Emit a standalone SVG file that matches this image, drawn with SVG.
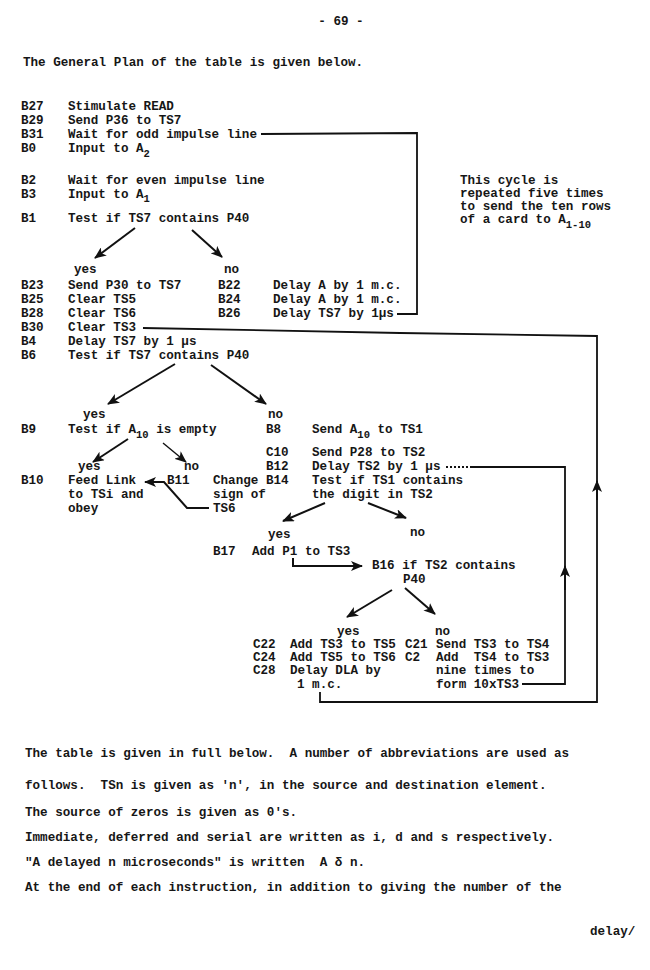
<svg xmlns="http://www.w3.org/2000/svg" width="650" height="970" viewBox="0 0 650 970">
<defs>
<style>
text{font-family:"Liberation Mono","DejaVu Sans Mono",monospace;font-size:12.6px;font-weight:bold;fill:#161616;white-space:pre}
.sub{font-size:10.5px}
.ln{fill:none;stroke:#111;stroke-width:1.8;stroke-linejoin:miter}
.ar{fill:none;stroke:#111;stroke-width:2;marker-end:url(#ah)}
.thin{stroke-width:1.4}
</style>
<marker id="ah" viewBox="0 0 12 10" refX="11" refY="5" markerWidth="12" markerHeight="10" markerUnits="userSpaceOnUse" orient="auto"><path d="M0,0 L12,5 L0,10 L3,5 Z" fill="#111"/></marker>
</defs>
<rect width="650" height="970" fill="#fff"/>
<g id="header">
<text x="341" y="25" text-anchor="middle">- 69 -</text>
<text x="23" y="66">The General Plan of the table is given below.</text>
</g>
<g id="B27"><text x="21" y="110">B27</text><text x="68" y="110">Stimulate READ</text></g>
<g id="B29"><text x="21" y="124">B29</text><text x="68" y="124">Send P36 to TS7</text></g>
<g id="B31"><text x="21" y="138">B31</text><text x="68" y="138">Wait for odd impulse line</text></g>
<g id="B0"><text x="21" y="152">B0</text><text x="68" y="152">Input to A<tspan class="sub" dy="5">2</tspan></text></g>
<g id="B2"><text x="21" y="184">B2</text><text x="68" y="184">Wait for even impulse line</text></g>
<g id="B3"><text x="21" y="198">B3</text><text x="68" y="198">Input to A<tspan class="sub" dy="4">1</tspan></text></g>
<g id="note"><text x="460" y="184">This cycle is</text><text x="460" y="197">repeated five times</text><text x="460" y="210">to send the ten rows</text><text x="460" y="223">of a card to A<tspan class="sub" dy="5">1-10</tspan></text></g>
<g id="B1"><text x="21" y="222">B1</text><text x="68" y="222">Test if TS7 contains P40</text><text x="74" y="273">yes</text><text x="224" y="273">no</text></g>
<g id="B23"><text x="21" y="289">B23</text><text x="68" y="289">Send P30 to TS7</text></g>
<g id="B25"><text x="21" y="303">B25</text><text x="68" y="303">Clear TS5</text></g>
<g id="B28"><text x="21" y="317">B28</text><text x="68" y="317">Clear TS6</text></g>
<g id="B30"><text x="21" y="331">B30</text><text x="68" y="331">Clear TS3</text></g>
<g id="B4"><text x="21" y="345">B4</text><text x="68" y="345">Delay TS7 by 1 μs</text></g>
<g id="B6"><text x="21" y="359">B6</text><text x="68" y="359">Test if TS7 contains P40</text><text x="83" y="418">yes</text><text x="268" y="418">no</text></g>
<g id="B22"><text x="218" y="289">B22</text><text x="273" y="289">Delay A by 1 m.c.</text></g>
<g id="B24"><text x="218" y="303">B24</text><text x="273" y="303">Delay A by 1 m.c.</text></g>
<g id="B26"><text x="218" y="317">B26</text><text x="273" y="317">Delay TS7 by 1μs</text></g>
<g id="B9"><text x="21" y="433">B9</text><text x="68" y="433">Test if A<tspan class="sub" dy="5">10</tspan><tspan dy="-5"> is empty</tspan></text><text x="78" y="470">yes</text><text x="184" y="470">no</text></g>
<g id="B8"><text x="266" y="433">B8</text><text x="312" y="433">Send A<tspan class="sub" dy="5">10</tspan><tspan dy="-5"> to TS1</tspan></text></g>
<g id="C10"><text x="266" y="456">C10</text><text x="312" y="456">Send P28 to TS2</text></g>
<g id="B12"><text x="266" y="470">B12</text><text x="312" y="470">Delay TS2 by 1 μs</text></g>
<g id="B10"><text x="21" y="484">B10</text><text x="68" y="484">Feed Link</text><text x="68" y="498">to TSi and</text><text x="68" y="512">obey</text></g>
<g id="B11"><text x="167" y="484">B11</text><text x="213" y="484">Change</text><text x="213" y="498">sign of</text><text x="213" y="512">TS6</text></g>
<g id="B14"><text x="266" y="484">B14</text><text x="312" y="484">Test if TS1 contains</text><text x="312" y="498">the digit in TS2</text><text x="268" y="538">yes</text><text x="410" y="536">no</text></g>
<g id="B17"><text x="213" y="555">B17</text><text x="252" y="555">Add P1 to TS3</text></g>
<g id="B16"><text x="372" y="569">B16 if TS2 contains</text><text x="403" y="583">P40</text><text x="337" y="635">yes</text><text x="435" y="635">no</text></g>
<g id="C22"><text x="253" y="648">C22</text><text x="290" y="648">Add TS3 to TS5</text></g>
<g id="C24"><text x="253" y="661">C24</text><text x="290" y="661">Add TS5 to TS6</text></g>
<g id="C28"><text x="253" y="674">C28</text><text x="290" y="674">Delay DLA by</text><text x="297" y="688">1 m.c.</text></g>
<g id="C21"><text x="405" y="648">C21</text><text x="436" y="648">Send TS3 to TS4</text></g>
<g id="C2"><text x="405" y="661">C2</text><text x="436" y="661">Add  TS4 to TS3</text><text x="436" y="674">nine times to</text><text x="436" y="688">form 10xTS3</text></g>
<g id="connectors">
<polyline class="ln" points="261,134 417,133 417,314 397,314"/>
<polyline class="ln" points="320,692 320,702 597,702 597,336 400,333 143,328"/>
<path class="ar" d="M597,500 L597,481"/>
<polyline class="ln" points="522,684 565,684 565,467 470,467"/>
<line class="ln" x1="446" y1="467" x2="470" y2="467" stroke-dasharray="2,2"/>
<path class="ar" d="M565,590 L565,566"/>
<path class="ar" d="M293,558 L293,566 L362,566"/>
<path class="ar" d="M209,508 L187,508 L164,482 L145,482"/>
<path class="ar" d="M135,228 L95,258"/>
<path class="ar" d="M192,230 L222,257"/>
<path class="ar" d="M175,364 L108,404"/>
<path class="ar" d="M211,365 L266,404"/>
<path class="ar" d="M128,439 L93,462"/>
<path class="ar thin" d="M163,443 L186,462"/>
<path class="ar" d="M325,503 L283,521"/>
<path class="ar" d="M368,503 L406,518"/>
<path class="ar" d="M392,590 L347,617"/>
<path class="ar" d="M405,588 L435,614"/>
</g>
<g id="footer">
<text x="25" y="757">The table is given in full below.  A number of abbreviations are used as</text>
<text x="25" y="789">follows.  TSn is given as 'n', in the source and destination element.</text>
<text x="25" y="816">The source of zeros is given as 0's.</text>
<text x="25" y="841">Immediate, deferred and serial are written as i, d and s respectively.</text>
<text x="25" y="866">"A delayed n microseconds" is written  A δ n.</text>
<text x="25" y="891">At the end of each instruction, in addition to giving the number of the</text>
<text x="590" y="935">delay/</text>
</g>
</svg>
